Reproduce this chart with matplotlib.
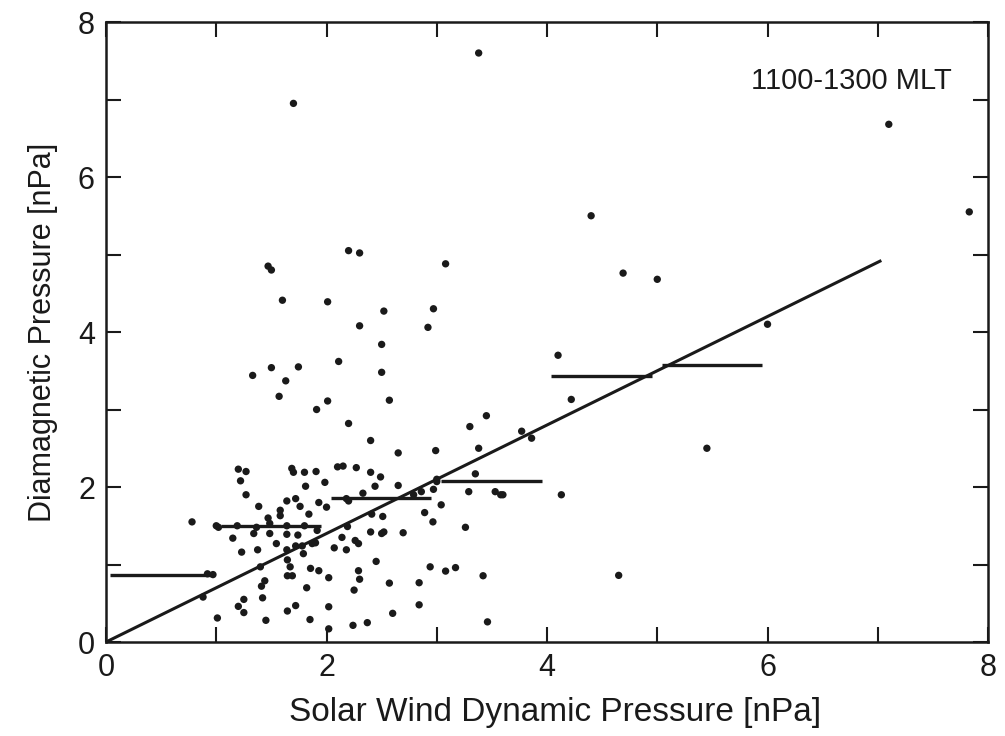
import numpy as np
import matplotlib
matplotlib.use("Agg")
import matplotlib.pyplot as plt

plt.rcParams['font.family'] = ['Liberation Sans', 'DejaVu Sans']

# scattered events: solar wind dynamic pressure vs diamagnetic pressure
sw_pressure = [
    1.70, 2.20, 2.30, 3.08, 1.47, 1.50, 1.60, 2.01, 2.52, 2.97, 2.30, 2.92,
    2.50, 2.11, 1.33, 1.50, 1.745, 1.63, 2.50, 1.57, 2.01, 2.57, 1.91, 3.38,
    2.20, 1.20, 1.27, 1.22, 1.27, 1.385, 1.685, 1.70, 1.80, 1.905, 1.81, 1.985,
    2.10, 2.15, 2.18, 2.20, 1.64, 1.72, 1.76, 1.93, 2.00, 1.47, 1.58, 1.58,
    1.84, 0.78, 1.00, 1.02, 1.19, 1.365, 1.485, 1.64, 1.80, 1.915, 2.19, 1.15,
    1.34, 1.485, 1.64, 1.74, 2.14, 1.545, 1.72, 1.78, 1.87, 1.90, 2.07, 2.18,
    1.23, 1.375, 1.64, 1.79, 1.645, 1.67, 1.40, 0.92, 0.97, 1.645, 1.69, 1.855,
    1.93, 2.02, 1.44, 1.41, 1.82, 0.88, 1.42, 1.25, 1.20, 1.25, 1.72, 1.645,
    2.02, 1.01, 1.45, 1.85, 2.02,
    2.40, 2.65, 2.99, 3.30, 3.45, 3.38, 2.27, 2.40, 2.49, 2.44, 2.65, 2.33,
    2.79, 2.86, 2.97, 3.00, 3.00, 3.29, 3.35, 3.53, 3.58, 3.04, 2.89, 2.965,
    3.26, 2.41, 2.51, 2.26, 2.29, 2.40, 2.50, 2.52, 2.695, 2.45, 2.29, 2.30,
    2.25, 2.57, 2.84, 2.94, 3.08, 3.17, 3.42, 2.84, 2.60, 2.24, 2.37, 3.46,
    7.10, 7.83, 4.40, 4.69, 5.00, 6.00, 4.10, 4.22, 3.77, 3.86, 5.45, 3.60,
    4.13, 4.65,
]
dia_pressure = [
    6.95, 5.05, 5.02, 4.88, 4.85, 4.80, 4.41, 4.39, 4.27, 4.30, 4.08, 4.06,
    3.84, 3.62, 3.44, 3.54, 3.55, 3.37, 3.48, 3.17, 3.11, 3.12, 3.00, 7.60,
    2.82, 2.23, 2.20, 2.08, 1.90, 1.75, 2.24, 2.19, 2.19, 2.20, 2.01, 2.06,
    2.26, 2.27, 1.85, 1.82, 1.82, 1.85, 1.75, 1.80, 1.74, 1.60, 1.70, 1.63,
    1.65, 1.55, 1.50, 1.48, 1.50, 1.48, 1.53, 1.50, 1.50, 1.44, 1.49, 1.34,
    1.40, 1.40, 1.39, 1.38, 1.35, 1.27, 1.24, 1.24, 1.27, 1.28, 1.215, 1.19,
    1.16, 1.19, 1.19, 1.14, 1.06, 0.97, 0.97, 0.88, 0.87, 0.855, 0.855, 0.95,
    0.92, 0.83, 0.79, 0.72, 0.70, 0.58, 0.57, 0.55, 0.46, 0.38, 0.47, 0.40,
    0.455, 0.31, 0.28, 0.29, 0.17,
    2.60, 2.44, 2.47, 2.78, 2.92, 2.50, 2.25, 2.19, 2.13, 2.01, 2.02, 1.92,
    1.90, 1.94, 1.97, 2.10, 2.07, 1.94, 2.17, 1.94, 1.90, 1.77, 1.67, 1.55,
    1.48, 1.65, 1.62, 1.31, 1.27, 1.42, 1.40, 1.42, 1.41, 1.04, 0.92, 0.81,
    0.67, 0.76, 0.765, 0.97, 0.915, 0.96, 0.855, 0.48, 0.37, 0.215, 0.25, 0.26,
    6.68, 5.55, 5.50, 4.76, 4.68, 4.10, 3.70, 3.13, 2.72, 2.63, 2.50, 1.90,
    1.90, 0.86,
]

# bin averages (1 nPa bins)
bin_lo = [0, 1, 2, 3, 4, 5]
bin_mean = [0.87, 1.50, 1.86, 2.08, 3.43, 3.58]

# linear fit through origin
fit_slope = 0.70
fit_xmax = 7.02

fig = plt.figure(figsize=(10.05, 7.36), dpi=100)
ax = fig.add_axes([0.1055, 0.1277, 0.8776, 0.8424])

ax.scatter(sw_pressure, dia_pressure, s=28, color='#1a1a1a', edgecolors='none', zorder=3)

for lo, m in zip(bin_lo, bin_mean):
    ax.plot([lo + 0.04, lo + 0.95], [m, m], color='#1a1a1a', lw=2.4, solid_capstyle='butt')

xf = np.array([0, fit_xmax])
ax.plot(xf, fit_slope * xf, color='#1a1a1a', lw=2.2)

ax.text(7.67, 7.24, '1100-1300 MLT', ha='right', va='center', fontsize=21, color='#1a1a1a')

ax.set_xlim(0, 8)
ax.set_ylim(0, 8)
ax.set_xticks([0, 2, 4, 6, 8])
ax.set_yticks([0, 2, 4, 6, 8])
ax.set_xticks([1, 3, 5, 7], minor=True)
ax.set_yticks([1, 3, 5, 7], minor=True)
ax.tick_params(which='both', direction='in', length=11, width=1.5, top=True, right=True,
               colors='#1a1a1a', labelsize=22, pad=8)
for s in ax.spines.values():
    s.set_linewidth(1.8)
    s.set_color('#1a1a1a')

ax.set_xlabel('Solar Wind Dynamic Pressure [nPa]', fontsize=24, color='#1a1a1a', labelpad=10)
ax.xaxis.label.set_x(0.509)
ax.set_ylabel('Diamagnetic Pressure [nPa]', fontsize=22, color='#1a1a1a', labelpad=14)

fig.savefig('out.png', dpi=100)
